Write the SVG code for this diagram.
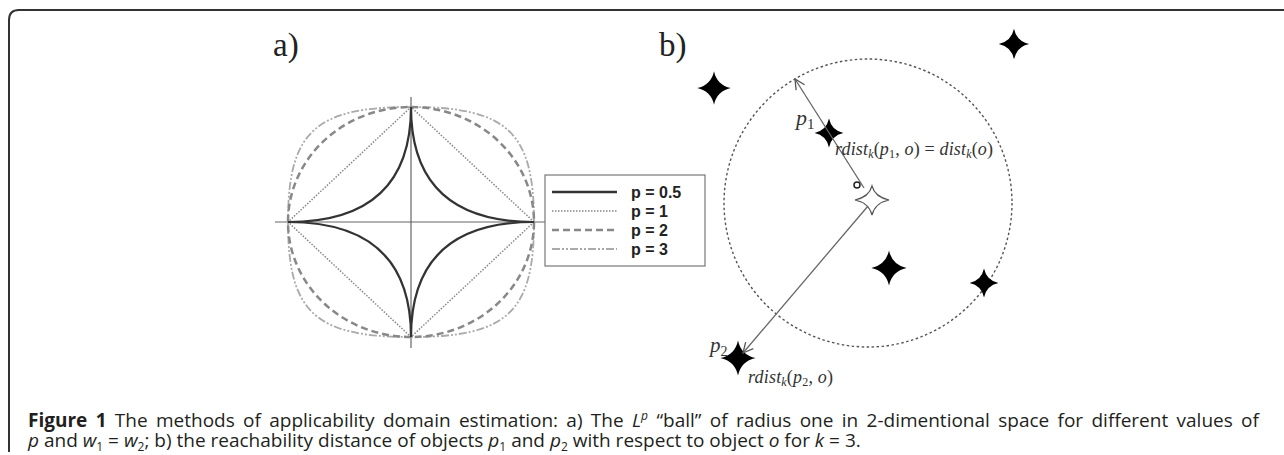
<svg xmlns="http://www.w3.org/2000/svg" width="1284" height="455" viewBox="0 0 1284 455">
<style>
.frame{fill:none;stroke:#333;stroke-width:2}
.axis{stroke:#666;stroke-width:1.2;fill:none}
.c05{fill:none;stroke:#333;stroke-width:2.2}
.c1{fill:none;stroke:#888;stroke-width:1.5;stroke-dasharray:1.5 1.5}
.c2{fill:none;stroke:#888;stroke-width:2.5;stroke-dasharray:7 4}
.c3{fill:none;stroke:#aaa;stroke-width:1.8;stroke-dasharray:8 2 2 2 2 2}
.lbl{font-family:"Liberation Serif","Times New Roman",serif;font-size:33px;fill:#222}
.leg{font-family:"Liberation Sans",Arial,sans-serif;font-size:16px;font-weight:bold;fill:#222}
.math{font-family:"Liberation Serif","DejaVu Serif",serif;font-style:italic;fill:#333}
.conn{stroke:#666;stroke-width:1.3;fill:none}
.ball{fill:none;stroke:#555;stroke-width:1.4;stroke-dasharray:2.5 2.5}
.cap{font-family:"Open Sans","Noto Sans",sans-serif;font-size:19px;fill:#231f20}
.it{font-style:italic}
.b{font-weight:bold}
</style>
<defs>
<path id="star" d="M0,-16 Q2.8,-2.8 16,0 Q2.8,2.8 0,16 Q-2.8,2.8 -16,0 Q-2.8,-2.8 0,-16Z" fill="#000"/>
<marker id="arr" viewBox="0 0 12 12" refX="11" refY="6" markerWidth="12" markerHeight="12" markerUnits="userSpaceOnUse" orient="auto">
<path d="M1,1 L11,6 L1,11" fill="none" stroke="#555" stroke-width="1.3"/>
</marker>
</defs>
<rect width="1284" height="455" fill="#fff"/>
<path class="frame" d="M9,452 V20 Q9,10 19,10 H1284"/>

<g id="panel-a">
<text class="lbl" x="273" y="56">a)</text>
<line class="axis" x1="275" y1="222" x2="545" y2="222"/>
<line class="axis" x1="411" y1="97" x2="411" y2="348"/>
<path class="c3" d="M534,222 C534,131.9 507.3,107 411,107 C314.7,107 288,131.9 288,222 C288,312.1 314.7,337 411,337 C507.3,337 534,312.1 534,222 Z"/>
<ellipse class="c2" cx="411" cy="222" rx="123" ry="115"/>
<path class="c1" d="M534,222 L411,107 L288,222 L411,337 Z"/>
<path class="c05" d="M534,222 Q411,222 411,107 Q411,222 288,222 Q411,222 411,337 Q411,222 534,222 Z"/>
</g>

<g id="legend">
<rect x="545" y="175" width="160" height="91" fill="#fff" stroke="#777" stroke-width="1.2"/>
<line class="c05" x1="552" y1="192" x2="617" y2="192" style="stroke-width:2.5"/>
<line class="c1" x1="552" y1="211" x2="617" y2="211"/>
<line class="c2" x1="552" y1="230" x2="617" y2="230"/>
<line class="c3" x1="552" y1="249" x2="617" y2="249"/>
<text class="leg" x="631" y="198">p = 0.5</text>
<text class="leg" x="631" y="217">p = 1</text>
<text class="leg" x="631" y="236">p = 2</text>
<text class="leg" x="631" y="255">p = 3</text>
</g>

<g id="panel-b">
<text class="lbl" x="659" y="56">b)</text>
<circle class="ball" cx="868" cy="203" r="144"/>
</g>

<g id="star1"><use href="#star" transform="translate(714,88) scale(1.05)"/></g>
<g id="star2"><use href="#star" transform="translate(1014,44) scale(0.95)"/></g>
<g id="star-p1"><use href="#star" transform="translate(829,133) scale(0.9)"/></g>
<g id="star3"><use href="#star" transform="translate(889,268) scale(1.1)"/></g>
<g id="star4"><use href="#star" transform="translate(984,283) scale(0.9)"/></g>
<g id="star-p2"><use href="#star" transform="translate(738,358) scale(1.1)"/></g>
<g id="star-o">
<path d="M872,186 Q875,197 889,200 Q875,203 872,215 Q869,203 855,200 Q869,197 872,186Z" fill="#fff" stroke="#555" stroke-width="1.2"/>
</g>
<g id="point-o"><circle cx="857" cy="185" r="3" fill="#fff" stroke="#222" stroke-width="1.5"/></g>

<g id="connectors">
<line class="conn" x1="864" y1="188" x2="795" y2="79" marker-end="url(#arr)"/>
<line class="conn" x1="868" y1="206" x2="743" y2="353" marker-end="url(#arr)"/>
</g>

<g id="labels-b">
<text class="math" x="796" y="125" font-size="22">p<tspan font-style="normal" font-size="15" dy="4">1</tspan></text>
<text class="math" x="835" y="155" font-size="18" textLength="158" lengthAdjust="spacing">rdist<tspan font-size="12" dy="3">k</tspan><tspan font-style="normal" dy="-3">(</tspan>p<tspan font-style="normal" font-size="12" dy="3">1</tspan><tspan font-style="normal" dy="-3">, </tspan>o<tspan font-style="normal">) = </tspan>dist<tspan font-size="12" dy="3">k</tspan><tspan font-style="normal" dy="-3">(</tspan>o<tspan font-style="normal">)</tspan></text>
<text class="math" x="710" y="352" font-size="21">p<tspan font-style="normal" font-size="14" dy="4">2</tspan></text>
<text class="math" x="748" y="383" font-size="18" textLength="85" lengthAdjust="spacing">rdist<tspan font-size="12" dy="3">k</tspan><tspan font-style="normal" dy="-3">(</tspan>p<tspan font-style="normal" font-size="12" dy="3">2</tspan><tspan font-style="normal" dy="-3">, </tspan>o<tspan font-style="normal">)</tspan></text>
</g>

<g id="caption">
<text class="cap" x="28" y="427" word-spacing="3.4"><tspan class="b">Figure 1</tspan> The methods of applicability domain estimation: a) The <tspan class="it">L</tspan><tspan class="it" font-size="12" dy="-7">p</tspan><tspan dy="7"> “ball” of radius one in 2-dimentional space for different values of</tspan></text>
<text class="cap" x="28" y="447"><tspan class="it">p</tspan> and <tspan class="it">w</tspan><tspan font-size="12" dy="4">1</tspan><tspan dy="-4"> = </tspan><tspan class="it">w</tspan><tspan font-size="12" dy="4">2</tspan><tspan dy="-4">; b) the reachability distance of objects </tspan><tspan class="it">p</tspan><tspan font-size="12" dy="4">1</tspan><tspan dy="-4"> and </tspan><tspan class="it">p</tspan><tspan font-size="12" dy="4">2</tspan><tspan dy="-4"> with respect to object </tspan><tspan class="it">o</tspan> for <tspan class="it">k</tspan> = 3.</text>
</g>
</svg>
